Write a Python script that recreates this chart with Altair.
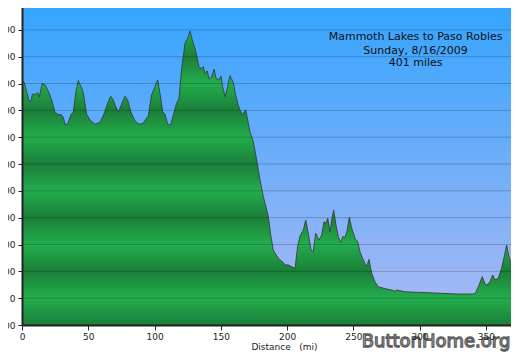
import altair as alt
import pandas as pd

# ---- data ----
miles = [0, 1.7, 3.5, 5.3, 6.8, 7.8, 10.3, 11.8, 13.0, 15.3, 17.4, 18.6, 20.6, 22.4,
         24.9, 26.9, 29.9, 31.2, 32.4, 34.5, 37.0, 38.7, 40.7, 42.5, 45.0, 46.3, 48.8,
         51.3, 55.1, 58.9, 62.1, 64.6, 66.9, 68.9, 70.7, 72.7, 74.7, 77.7, 79.7, 82.2,
         85.3, 88.3, 91.5, 95.3, 97.8, 100.4, 102.4, 104.1, 106.2, 107.9, 109.9, 112.2,
         114.2, 116.2, 118.5, 120.5, 123.0, 125.0, 126.8, 128.5, 130.5, 132.3, 133.6,
         135.6, 136.8, 138.1, 139.8, 141.1, 143.1, 144.9, 146.4, 148.6, 150.2, 151.4,
         153.2, 154.9, 156.9, 159.4, 161.2, 163.2, 164.5, 166.3, 167.8, 168.8, 170.3,
         172.0, 174.5, 177.1, 179.6, 182.1, 183.9, 185.9, 187.9, 189.6, 192.2, 194.7,
         197.2, 198.4, 200.9, 203.5, 206.0, 208.0, 209.8, 212.3, 214.1, 216.0, 218.1,
         219.8, 221.6, 222.8, 224.3, 226.1, 227.9, 229.4, 230.7, 232.4, 233.7, 235.2,
         236.9, 238.7, 240.5, 242.0, 243.7, 245.2, 247.0, 248.8, 251.3, 253.3, 255.0,
         257.5, 260.1, 261.8, 263.9, 266.3, 268.8, 273.9, 278.9, 281.4, 282.7, 289.0,
         296.5, 304.1, 316.7, 329.2, 340.5, 342.3, 344.3, 347.3, 349.4, 351.1, 353.1,
         355.2, 356.9, 359.4, 361.9, 363.9, 365.7, 367.5, 369.5, 371.5, 373.3, 375.0]
elev_ft = [8100, 8050, 7700, 7350, 7350, 7600, 7600, 7675, 7490, 8010, 7945, 7835, 7635, 7390,
           6930, 6855, 6830, 6730, 6480, 6480, 6855, 6930, 7700, 8110, 7825, 7635, 6855,
           6640, 6480, 6555, 6890, 7265, 7525, 7390, 7140, 6930, 7175, 7525, 7390, 6930,
           6605, 6480, 6520, 6800, 7575, 7885, 8130, 7635, 6950, 6855, 6480, 6455,
           6830, 7200, 7450, 8570, 9500, 9690, 9960, 9625, 9315, 8940, 8590,
           8570, 8630, 8380, 8470, 8170, 8240, 8540, 8195, 8130, 8280, 7885,
           7510, 7825, 8295, 8045, 7575, 7200, 7015, 6830, 6950, 7015, 6640,
           6205, 5835, 5150, 4405, 3785, 3435, 3040, 2290, 1795, 1575, 1425,
           1325, 1240, 1240, 1175, 1115, 1920, 2320, 2540, 2915, 2420, 1795,
           1735, 2420, 2290, 2170, 2355, 2850, 2790, 2980, 2480, 2915, 3285,
           2730, 2290, 2070, 2290, 2270, 2480, 3015, 2605, 2230, 2105, 1735,
           1425, 1175, 1450, 930, 615, 430, 355, 305, 255, 305, 240,
           220, 210, 180, 155, 155, 205, 430, 800, 530, 490, 615,
           865, 680, 740, 1115, 1545, 1980, 1545, 1240, 1115, 1050, 1115]

x_ticks = [0, 50, 100, 150, 200, 250, 300, 350]
y_ticks = list(range(-1000, 12000, 1000))
x_domain = [0, 369]
y_domain = [-1000, 11000]

title_lines = ["Mammoth Lakes to Paso Robles", "Sunday, 8/16/2009", "401 miles"]
title_mi = [297, 297, 297]
title_ft = [9735, 9225, 8755]
watermark = ["ButtonHome.org"]
x_title = "Distance\u00a0\u00a0\u00a0(mi)"

# ---- styling helpers ----
W, H = 489, 322
FONT = "DejaVu Sans"
LIGHT, DARK = "#23ad4d", "#1a7f38"


def mix(c1, c2, t):
    a = [int(c1[i:i + 2], 16) for i in (1, 3, 5)]
    b = [int(c2[i:i + 2], 16) for i in (1, 3, 5)]
    return "#" + "".join(f"{round(a[k] + (b[k] - a[k]) * t):02x}" for k in range(3))


def band_color(v):
    phase = (v / 1000.0) % 2
    t = phase if phase <= 1 else 2 - phase
    return mix(LIGHT, DARK, t)


ytop = max(elev_ft)
ybot = y_domain[0]
stops = [alt.GradientStop(color=band_color(ytop), offset=0)]
v = int(ytop // 1000) * 1000
while v >= ybot:
    stops.append(alt.GradientStop(color=band_color(v), offset=(ytop - v) / (ytop - ybot)))
    v -= 1000
green_fill = alt.Gradient(gradient="linear", stops=stops, x1=0, x2=0, y1=0, y2=1)

sky_fill = alt.Gradient(gradient="linear", x1=0, x2=0, y1=0, y2=1,
                        stops=[alt.GradientStop(offset=0, color="#33a4ff"),
                               alt.GradientStop(offset=1, color="#adb9f3")])

df = pd.DataFrame({"mi": miles, "ft": elev_ft})
tdf = pd.DataFrame({"mi": title_mi, "ft": title_ft, "t": title_lines})
wdf = pd.DataFrame({"t": watermark})
gdf = pd.DataFrame({"ft": y_ticks})

xs = alt.Scale(domain=x_domain, nice=False, zero=False)
ys = alt.Scale(domain=y_domain, nice=False, zero=False)

x_enc = alt.X("mi:Q", scale=xs, axis=alt.Axis(
    values=x_ticks, tickCount=len(x_ticks) + 2, title=x_title, grid=False,
    domainColor="#222", domainWidth=2,
    tickColor="#222", tickSize=5, labelFont=FONT, labelFontSize=9, labelColor="#222",
    labelPadding=2, labelFlush=False, labelOverlap=False, titleFont=FONT, titleFontSize=9,
    titleFontWeight="normal", titleColor="#222", titleX=262, titleY=21,
    titleBaseline="middle", titleAlign="center", zindex=1))
y_enc = alt.Y("ft:Q", scale=ys, axis=alt.Axis(
    values=y_ticks, tickCount=len(y_ticks) + 2, format="d", title=None, grid=False,
    domainColor="#222", domainWidth=2, tickColor="#222", tickSize=4,
    labelFont=FONT, labelFontSize=9, labelColor="#222", labelPadding=3,
    labelFlush=False, labelOverlap=False, zindex=1))

sky = alt.Chart(wdf).mark_rect(fill=sky_fill).encode(
    x=alt.value(0), x2=alt.value(W), y=alt.value(0), y2=alt.value(H))
base = alt.Chart(df)
area = base.mark_area(fill=green_fill, clip=True).encode(
    x=x_enc, y=y_enc, y2=alt.datum(ybot))
line = base.mark_line(color="#3a3a3a", strokeWidth=1, opacity=0.85, clip=True).encode(
    x="mi:Q", y="ft:Q")
grid = alt.Chart(gdf).mark_rule(color="#000000", opacity=0.2, strokeWidth=1).encode(
    y="ft:Q")
text = alt.Chart(tdf).mark_text(font=FONT, fontSize=11, color="#111111",
                                align="center", baseline="middle").encode(
    x="mi:Q", y="ft:Q", text="t:N")
wm = alt.Chart(wdf).mark_text(font=FONT, fontSize=18, fill="#f2f2f2", stroke="#5e5e5e",
                              strokeWidth=1.3, align="center", baseline="middle").encode(
    x=alt.value(414), y=alt.value(339), text="t:N")

chart = alt.layer(sky, area, line, grid, text, wm).properties(
    width=W, height=H,
    autosize=alt.AutoSizeParams(type="none"),
    padding={"left": 14, "top": -5, "right": 0, "bottom": 27},
    background="white",
).configure_view(strokeWidth=0)

chart.save("out.html", embed_options={"renderer": "svg", "actions": False})
